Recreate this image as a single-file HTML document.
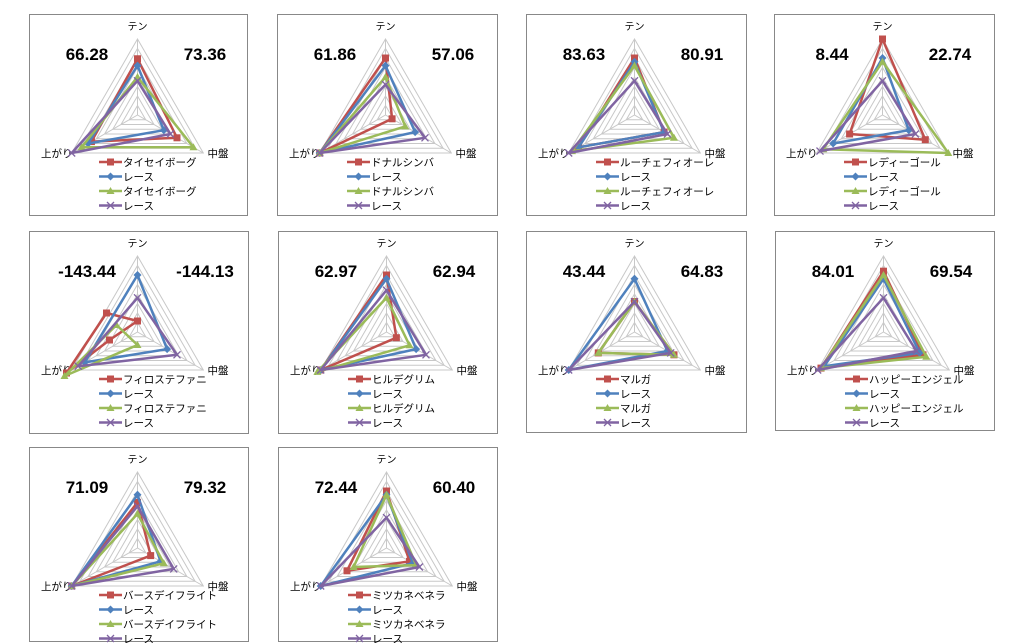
<!DOCTYPE html>
<html><head><meta charset="utf-8"><style>
body{margin:0;background:#fff;width:1024px;height:643px;overflow:hidden;font-family:"Liberation Sans","Noto Sans CJK JP",sans-serif}
svg{position:absolute;left:0;top:0}
</style></head><body>
<svg id="s" width="1024" height="643" xmlns="http://www.w3.org/2000/svg"></svg>
<script>
const C=['#c0504d','#4f81bd','#9bbb59','#8064a2'];
const P=[
{x:29,y:14,w:218,h:201,a:'66.28',b:'73.36',n:'タイセイボーグ',d:[[0.74,0.6,0.7],[0.65,0.4,0.75],[0.5,0.85,0.85],[0.45,0.5,1.0]]},
{x:277,y:14,w:220,h:201,a:'61.86',b:'57.06',n:'ドナルシンバ',d:[[0.75,0.1,1.0],[0.65,0.45,1.0],[0.5,0.3,1.0],[0.4,0.6,1.0]]},
{x:526,y:14,w:220,h:201,a:'83.63',b:'80.91',n:'ルーチェフィオーレ',d:[[0.75,0.45,0.85],[0.7,0.45,0.85],[0.65,0.6,0.95],[0.45,0.5,1.0]]},
{x:774,y:14,w:220,h:201,a:'8.44',b:'22.74',n:'レディーゴール',d:[[1.0,0.65,0.5],[0.75,0.4,0.75],[0.7,1.0,0.9],[0.45,0.5,0.95]]},
{x:29,y:231,w:219,h:202,a:'-143.44',b:'-144.13',n:'フィロステファニ',d:[null,[0.75,0.45,0.8],null,[0.45,0.6,0.9]],
 raw:[[[-31,-19],[0,-11],[-28,8],[-71,41]],null,[[-21,-7],[0,13],[-73,44]],null]},
{x:278,y:231,w:219,h:202,a:'62.97',b:'62.94',n:'ヒルデグリム',d:[[0.75,0.15,1.0],[0.7,0.45,1.0],[0.45,0.35,1.05],[0.55,0.6,1.0]]},
{x:526,y:231,w:220,h:201,a:'43.44',b:'64.83',n:'マルガ',d:[[0.4,0.6,0.55],[0.7,0.5,1.0],[0.4,0.6,0.55],[0.4,0.55,1.0]]},
{x:775,y:231,w:219,h:199,a:'84.01',b:'69.54',n:'ハッピーエンジェル',d:[[0.8,0.6,0.95],[0.7,0.55,0.9],[0.75,0.65,0.95],[0.45,0.5,1.0]]},
{x:29,y:447,w:219,h:194,a:'71.09',b:'79.32',n:'バースデイフライト',d:[[0.6,0.2,1.0],[0.7,0.35,1.0],[0.45,0.4,1.0],[0.55,0.55,1.0]]},
{x:278,y:447,w:219,h:194,a:'72.44',b:'60.40',n:'ミツカネベネラ',d:[[0.75,0.35,0.6],[0.7,0.4,1.0],[0.7,0.45,0.5],[0.4,0.5,1.0]]}
];
const R=76,ang=[-90,30,150].map(a=>a*Math.PI/180);
let o='';
function mk(i,x,y){
 const c=C[i];
 if(i==0)return `<rect x="${x-3.5}" y="${y-3.5}" width="7" height="7" fill="${c}"/>`;
 if(i==1)return `<path d="M${x} ${y-4}L${x+4} ${y}L${x} ${y+4}L${x-4} ${y}Z" fill="${c}"/>`;
 if(i==2)return `<path d="M${x} ${y-4}L${x+4} ${y+3}L${x-4} ${y+3}Z" fill="${c}"/>`;
 return `<path d="M${x-3.5} ${y-3.5}L${x+3.5} ${y+3.5}M${x+3.5} ${y-3.5}L${x-3.5} ${y+3.5}" stroke="${c}" stroke-width="1.3"/>`;
}
for(const p of P){
 o+=`<rect x="${p.x+0.5}" y="${p.y+0.5}" width="${p.w}" height="${p.h}" fill="#fff" stroke="#888"/>`;
 const cx=p.x+108.5,cy=p.y+101;
 for(let k=1;k<=8;k++){const r=R*k/8;o+=`<polygon points="${ang.map(a=>(cx+r*Math.cos(a))+','+(cy+r*Math.sin(a))).join(' ')}" fill="none" stroke="#c8c8c8" stroke-width="1"/>`;}
 ang.forEach(a=>o+=`<line x1="${cx}" y1="${cy}" x2="${cx+R*Math.cos(a)}" y2="${cy+R*Math.sin(a)}" stroke="#c8c8c8"/>`);
 o+=`<text x="${cx}" y="${cy-85}" font-size="10" text-anchor="middle">テン</text>`;
 o+=`<text x="${cx+70}" y="${cy+42}" font-size="10.5">中盤</text>`;
 o+=`<text x="${cx-65}" y="${cy+42}" font-size="10.5" text-anchor="end">上がり</text>`;
 o+=`<text x="${p.x+58}" y="${p.y+46}" font-size="17" font-weight="bold" text-anchor="middle">${p.a}</text>`;
 o+=`<text x="${p.x+176}" y="${p.y+46}" font-size="17" font-weight="bold" text-anchor="middle">${p.b}</text>`;
 for(let i=0;i<4;i++){
  let pts;
  if(p.raw&&p.raw[i])pts=p.raw[i].map(q=>[cx+q[0],cy+q[1]]);
  else pts=p.d[i].map((v,j)=>[cx+R*v*Math.cos(ang[j]),cy+R*v*Math.sin(ang[j])]);
  o+=`<polygon points="${pts.map(q=>q.join(',')).join(' ')}" fill="none" stroke="${C[i]}" stroke-width="2.5" stroke-linejoin="round"/>`;
  pts.forEach(q=>o+=mk(i,q[0],q[1]));
 }
 const names=[p.n,'レース',p.n,'レース'];
 for(let i=0;i<4;i++){const ly=p.y+148+i*14.5;
  o+=`<line x1="${p.x+70}" y1="${ly}" x2="${p.x+93}" y2="${ly}" stroke="${C[i]}" stroke-width="2.5"/>`+mk(i,p.x+81.5,ly);
  o+=`<text x="${p.x+94}" y="${ly+4}" font-size="10.5">${names[i]}</text>`;}
}
document.getElementById('s').innerHTML=o;
</script>
</body></html>
